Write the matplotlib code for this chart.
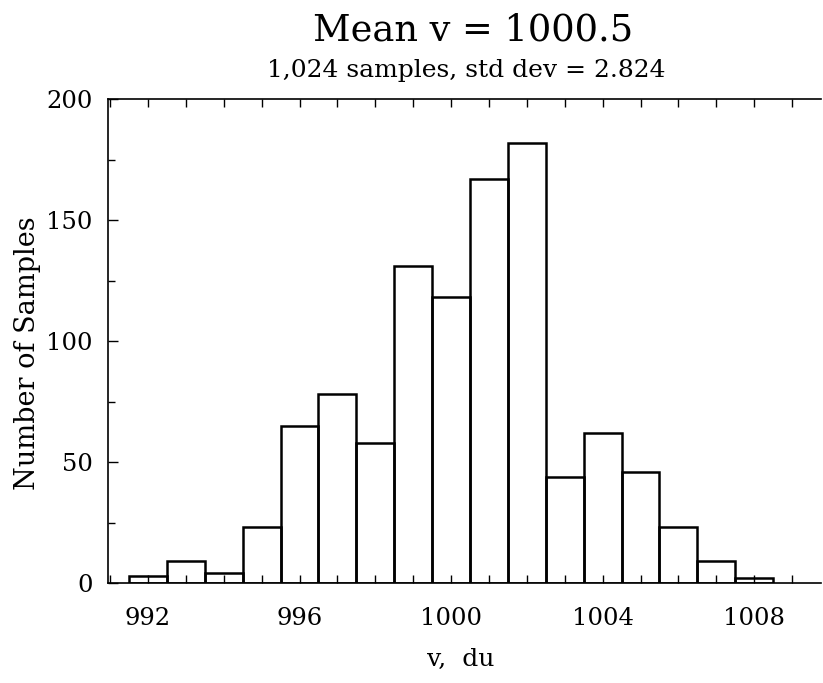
import matplotlib
matplotlib.use("Agg")
import matplotlib.pyplot as plt

# histogram of v: one bin per integer value, counts
v_bins = [992, 993, 994, 995, 996, 997, 998, 999, 1000,
          1001, 1002, 1003, 1004, 1005, 1006, 1007, 1008]
counts = [3, 9, 4, 23, 65, 78, 58, 131, 118,
          167, 182, 44, 62, 46, 23, 9, 2]

x_major = [992, 996, 1000, 1004, 1008]
y_major = [0, 50, 100, 150, 200]
y_minor = [25, 75, 125, 175]

title = "Mean v = 1000.5"
subtitle = "1,024 samples, std dev = 2.824"
xlab = "v,  du"
ylab = "Number of Samples"

plt.rcParams['font.family'] = ['DejaVu Serif']

fig = plt.figure(figsize=(8.23, 6.83), dpi=100)
ax = fig.add_axes([0.131, 0.1464, 0.866, 0.7086])

ax.bar(v_bins, counts, width=1.0, fill=False,
       edgecolor='black', linewidth=1.8)

ax.set_xlim(990.94, 1009.75)
ax.set_ylim(0, 200)

ax.set_xticks(x_major)
ax.set_xticklabels([str(v) for v in x_major])
ax.set_xticks(range(991, 1010), minor=True)
ax.tick_params(axis='x', which='both', direction='in', length=6, width=1,
               top=True)
ax.tick_params(axis='x', which='major', pad=17, labelsize=17.5)

ax.set_yticks(y_major)
ax.set_yticks(y_minor, minor=True)
ax.tick_params(axis='y', which='major', direction='in', length=7, width=1,
               pad=11, labelsize=17.5)
ax.tick_params(axis='y', which='minor', direction='in', length=5, width=1)

ax.spines['right'].set_visible(False)
for s in ('left', 'bottom', 'top'):
    ax.spines[s].set_linewidth(1.2)

fig.text(0.575, 0.955, title, ha='center', va='center', fontsize=26.5)
fig.text(0.567, 0.897, subtitle, ha='center', va='center', fontsize=18)
fig.text(0.56, 0.034, xlab, ha='center', va='center', fontsize=18)
fig.text(0.034, 0.483, ylab, ha='center', va='center', rotation=90,
         fontsize=19.5)

fig.savefig("out.png", dpi=100)
